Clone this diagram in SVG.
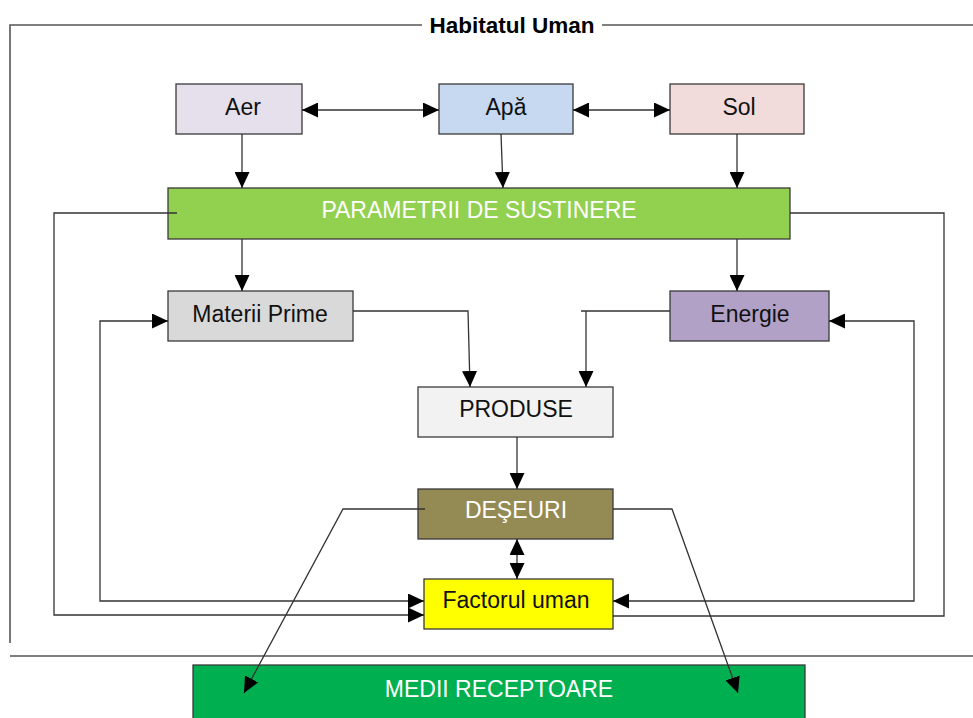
<svg xmlns="http://www.w3.org/2000/svg" width="973" height="718" viewBox="0 0 973 718">
<style>
.box{stroke:#3a3a3a;stroke-width:1.3}
.t{font-family:"Liberation Sans",Arial,sans-serif;font-size:23px;text-anchor:middle;fill:#111}
.w{fill:#ffffff}
.c{fill:none;stroke:#333;stroke-width:1.3}
.frame{fill:none;stroke:#555;stroke-width:1.6}
</style>
<defs>
<marker id="ah" markerUnits="userSpaceOnUse" markerWidth="17" markerHeight="15" refX="16" refY="7.5" orient="auto-start-reverse" viewBox="0 0 17 15">
<path d="M0,0 L16,7.5 L0,15 z" fill="#000"/>
</marker>
</defs>
<rect width="973" height="718" fill="#ffffff"/>
<g id="frame">
<polyline class="frame" points="422,25 10,25 10,643"/>
<line class="frame" x1="602" y1="25" x2="973" y2="25"/>
<line class="frame" x1="10" y1="656" x2="973" y2="656"/>
<text x="512" y="33" style="font-family:'Liberation Sans',Arial,sans-serif;font-size:22.5px;font-weight:bold;text-anchor:middle;fill:#000">Habitatul Uman</text>
</g>
<g id="aer"><rect class="box" x="176" y="84" width="126" height="50" fill="#e6e0ec"/><text class="t" x="243" y="115">Aer</text></g>
<g id="apa"><rect class="box" x="439" y="84" width="134" height="50" fill="#c6d9f1"/><text class="t" x="506" y="115">Apă</text></g>
<g id="sol"><rect class="box" x="670" y="84" width="134" height="50" fill="#f2dcdb"/><text class="t" x="739" y="115">Sol</text></g>
<g id="parametrii"><rect class="box" x="168" y="188" width="622" height="51" fill="#92d050"/><text class="t w" x="479" y="218">PARAMETRII DE SUSTINERE</text></g>
<g id="materii"><rect class="box" x="168" y="291" width="185" height="50" fill="#d9d9d9"/><text class="t" x="260" y="322">Materii Prime</text></g>
<g id="energie"><rect class="box" x="670" y="291" width="159" height="50" fill="#b2a1c7"/><text class="t" x="750" y="322">Energie</text></g>
<g id="produse"><rect class="box" x="418" y="387" width="195" height="50" fill="#f2f2f2"/><text class="t" x="516" y="417">PRODUSE</text></g>
<g id="deseuri"><rect class="box" x="418" y="489" width="195" height="50" fill="#948a54"/><text class="t w" x="516" y="518">DEŞEURI</text></g>
<g id="factorul"><rect class="box" x="424" y="579" width="189" height="50" fill="#ffff00"/><text class="t" x="516" y="608">Factorul uman</text></g>
<g id="medii"><rect class="box" x="193" y="665" width="612" height="60" fill="#00b050"/><text class="t w" x="499" y="697">MEDII RECEPTOARE</text></g>
<g id="connectors">
<line class="c" x1="302" y1="110" x2="439" y2="110" marker-start="url(#ah)" marker-end="url(#ah)"/>
<line class="c" x1="573" y1="110" x2="670" y2="110" marker-start="url(#ah)" marker-end="url(#ah)"/>
<line class="c" x1="242" y1="134" x2="242" y2="188" marker-end="url(#ah)"/>
<line class="c" x1="501" y1="134" x2="503" y2="188" marker-end="url(#ah)"/>
<line class="c" x1="737" y1="134" x2="737" y2="188" marker-end="url(#ah)"/>
<line class="c" x1="242" y1="239" x2="242" y2="291" marker-end="url(#ah)"/>
<line class="c" x1="737" y1="239" x2="737" y2="291" marker-end="url(#ah)"/>
<polyline class="c" points="353,311 468,311 470,387" marker-end="url(#ah)"/>
<line class="c" x1="670" y1="311" x2="581" y2="311"/>
<line class="c" x1="586" y1="311" x2="586" y2="387" marker-end="url(#ah)"/>
<line class="c" x1="517" y1="437" x2="517" y2="489" marker-end="url(#ah)"/>
<line class="c" x1="517" y1="539" x2="517" y2="579" marker-start="url(#ah)" marker-end="url(#ah)"/>
<polyline class="c" points="177,213 54,213 54,615 424,615" marker-end="url(#ah)"/>
<polyline class="c" points="424,601 100,601 100,321 168,321" marker-start="url(#ah)" marker-end="url(#ah)"/>
<polyline class="c" points="790,213 944,213 944,616 613,616"/>
<polyline class="c" points="613,601 914,601 914,321 829,321" marker-start="url(#ah)" marker-end="url(#ah)"/>
<polyline class="c" points="425,509 343,509 244,693" marker-end="url(#ah)"/>
<polyline class="c" points="613,509 672,509 738,693" marker-end="url(#ah)"/>
</g>
</svg>
